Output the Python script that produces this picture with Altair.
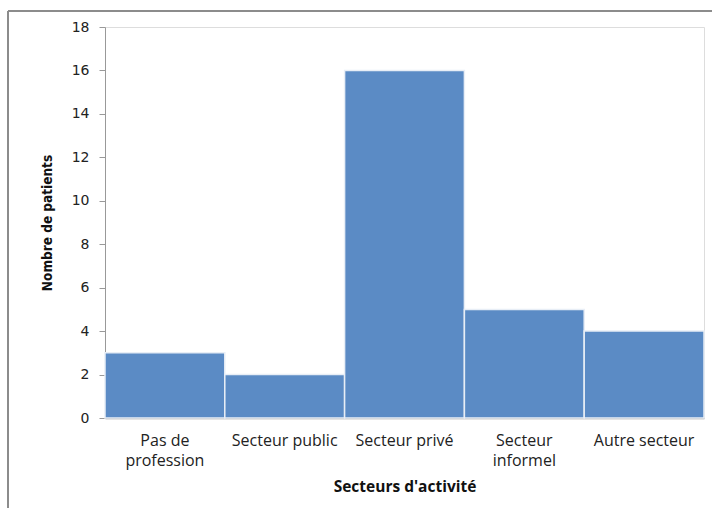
import altair as alt
import pandas as pd

categories = ["Pas de profession", "Secteur public", "Secteur privé", "Secteur informel", "Autre secteur"]
values = [3, 2, 16, 5, 4]
y_ticks = [0, 2, 4, 6, 8, 10, 12, 14, 16, 18]

df = pd.DataFrame({"cat": categories, "n": values})

label_expr = (
    "datum.value == 'Pas de profession' ? ['Pas de', 'profession'] : "
    "datum.value == 'Secteur informel' ? ['Secteur', 'informel'] : datum.value"
)

bars = alt.Chart(df).mark_bar(
    color="#5B8BC5", stroke="#E8EEF6", strokeWidth=1.5
).encode(
    x=alt.X("cat:N", sort=categories,
            scale=alt.Scale(paddingInner=0, paddingOuter=0),
            axis=alt.Axis(title="Secteurs d'activité", labelAngle=0,
                          labelExpr=label_expr, ticks=False,
                          labelPadding=14, labelFont="Open Sans", labelFontSize=16,
                          labelColor="#222", labelLineHeight=20,
                          titleFont="Open Sans", titleFontSize=15.5, titleFontWeight="bold",
                          titleColor="#111", titlePadding=11,
                          domainColor="#999", domainWidth=1.5)),
    y=alt.Y("n:Q", scale=alt.Scale(domain=[0, 18], nice=False),
            axis=alt.Axis(title="Nombre de patients", values=y_ticks, grid=False,
                          tickSize=6, tickColor="#999", domainColor="#999",
                          labelFont="DejaVu Sans", labelFontSize=14, labelColor="#222",
                          labelPadding=10,
                          titleFont="DejaVu Sans Condensed",
                          titleFontSize=13.5,
                          titleFontWeight="bold", titleColor="#111", titlePadding=17)),
)

frame_top = alt.Chart(df).mark_rule(color="#8c8c8c", strokeWidth=2, clip=False).encode(
    x=alt.value(-97), x2=alt.value(620), y=alt.value(-16))
frame_left = alt.Chart(df).mark_rule(color="#8c8c8c", strokeWidth=2, clip=False).encode(
    x=alt.value(-97), y=alt.value(-16), y2=alt.value(500))

chart = alt.layer(bars, frame_top, frame_left).properties(
    width=599, height=391,
    autosize=alt.AutoSizeParams(type="none"),
    padding={"left": 105, "top": 27, "right": 8, "bottom": 90},
).configure_view(stroke=None).configure(background="white")

chart.save("out.html", embed_options={"renderer": "svg", "actions": False})
